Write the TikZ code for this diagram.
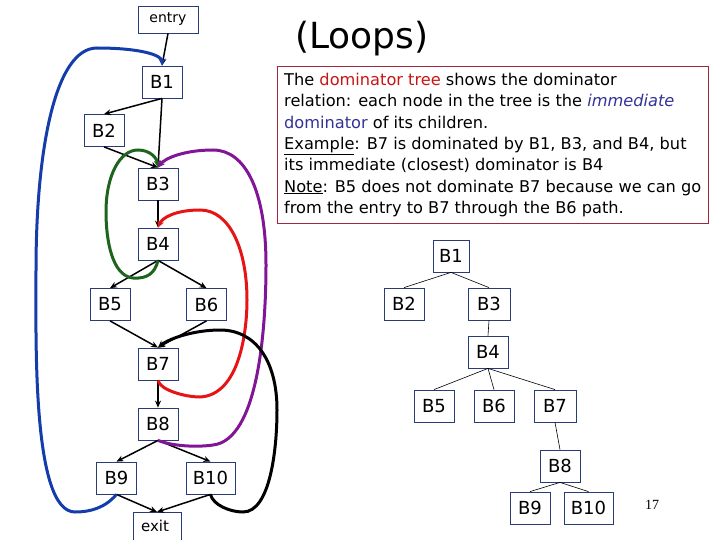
\documentclass[tikz,border=0pt]{standalone}
\usepackage{fontspec}
\setmainfont{DejaVu Sans}
\newfontfamily\pgfont{Liberation Serif}
\usetikzlibrary{arrows.meta}
\definecolor{boxblue}{RGB}{40,60,120}
\definecolor{frame}{RGB}{160,40,60}
\definecolor{bbl}{RGB}{20,60,170}
\definecolor{bgr}{RGB}{30,100,30}
\definecolor{bpu}{RGB}{130,20,150}
\definecolor{bre}{RGB}{230,20,20}
\definecolor{tred}{RGB}{200,20,20}
\definecolor{tblue}{RGB}{50,50,150}
\tikzset{
  blk/.style={draw=boxblue,line width=0.8pt,minimum width=40pt,minimum height=32pt,inner sep=0pt,font=\fontsize{18}{18}\selectfont},
  tblk/.style={draw=boxblue,line width=0.8pt,minimum width=40pt,minimum height=32pt,inner sep=0pt,font=\fontsize{18}{18}\selectfont},
  flow/.style={line width=1.5pt,-{Stealth[length=7pt,width=6pt]}},
  back/.style={line width=3pt,-{Stealth[length=7pt,width=7pt]}},
  tedge/.style={line width=0.6pt}
}
\begin{document}
\begin{tikzpicture}[x=1pt,y=-1pt]
\useasboundingbox (0,0) rectangle (720,540);
% left flow graph
\node[blk,minimum width=60pt,minimum height=27pt,font=\fontsize{14}{14}\selectfont] (entry) at (168,19.5) {entry};
\node[blk] (b1) at (162,82) {B1};
\node[blk] (b2) at (104,130.5) {B2};
\node[blk] (b3) at (158,184) {B3};
\node[blk] (b4) at (158,244) {B4};
\node[blk] (b5) at (110,304.5) {B5};
\node[blk] (b6) at (206.5,304.5) {B6};
\node[blk] (b7) at (158,364) {B7};
\node[blk] (b8) at (158,424) {B8};
\node[blk] (b9) at (116.5,478) {B9};
\node[blk,minimum width=49pt] (b10) at (210.5,478) {B10};
\node[blk,minimum width=48pt,minimum height=32pt,anchor=north] (exit) at (157,512) {};
\node[font=\fontsize{15}{15}\selectfont] (exitl) at (155,526) {exit};
\draw[flow] (entry.south) -- (b1.north);
\draw[flow] (b1.south) -- (b2.north);
\draw[flow] (b1.south) -- (b3.north);
\draw[flow] (b2.south) -- (b3.north);
\draw[flow] (b3.south) -- (b4.north);
\draw[flow] (b4.south) -- (b5.north);
\draw[flow] (b4.south) -- (b6.north);
\draw[flow] (b5.south) -- (b7.north);
\draw[flow] (b6.south) -- (b7.north);
\draw[flow] (b7.south) -- (b8.north);
\draw[flow] (b8.south) -- (b9.north);
\draw[flow] (b8.south) -- (b10.north);
\draw[flow] (b9.south) -- (exit.north);
\draw[flow] (b10.south) -- (exit.north);
% back edges
\draw[back,bbl] (b9.south) .. controls (105,508) and (90,512) .. (75,512)
  .. controls (32,512) and (36,340) .. (36,270)
  .. controls (36,150) and (55,48) .. (97,48)
  .. controls (140,48) and (162,55) .. (b1.north);
\draw[back,bgr] (b4.south) .. controls (155,274) and (146,279) .. (133,278)
  .. controls (112,276) and (106,240) .. (106,212)
  .. controls (106,175) and (120,150) .. (138,150)
  .. controls (150,150) and (157,158) .. (b3.north);
\draw[back,bpu] (b8.south) .. controls (175,447) and (200,447) .. (213,445)
  .. controls (258,440) and (266,330) .. (266,265)
  .. controls (266,190) and (245,150) .. (213,150)
  .. controls (185,150) and (165,158) .. (b3.north);
\draw[back,bre] (b7.south) .. controls (160,390) and (185,397) .. (200,397)
  .. controls (240,395) and (247,330) .. (247,300)
  .. controls (247,250) and (230,210) .. (200,210)
  .. controls (175,210) and (162,218) .. (b4.north);
\draw[back,black] (b10.south) .. controls (213,505) and (230,512) .. (243,512)
  .. controls (270,512) and (277,450) .. (277,410)
  .. controls (277,360) and (255,330) .. (220,330)
  .. controls (195,330) and (170,338) .. (b7.north);
% title
\node[font=\fontsize{36}{36}\selectfont] (title) at (362,39) {(Loops)};
% text box
\draw[frame,line width=1pt] (277,67) rectangle (708,224);
\node[anchor=north west,align=left,inner sep=0pt,font=\fontsize{16.2}{21.3}\selectfont] (txt) at (284,73) {%
The {\color{tred}dominator tree} shows the dominator\\
relation: each node in the tree is the {\color{tblue}\itshape immediate}\\
{\color{tblue}dominator} of its children.\\
\underline{Example}: B7 is dominated by B1, B3, and B4, but\\
its immediate (closest) dominator is B4\\
\underline{Note}: B5 does not dominate B7 because we can go\\
from the entry to B7 through the B6 path.};
% dominator tree
\node[tblk,minimum width=36pt] (t1) at (451,256) {B1};
\node[tblk] (t2) at (404,304) {B2};
\node[tblk,minimum width=42pt] (t3) at (489,304) {B3};
\node[tblk] (t4) at (488,352) {B4};
\node[tblk] (t5) at (434,406) {B5};
\node[tblk] (t6) at (494,406) {B6};
\node[tblk,minimum width=42pt] (t7) at (555,406) {B7};
\node[tblk] (t8) at (560,466) {B8};
\node[tblk] (t9) at (530,508) {B9};
\node[tblk,minimum width=49pt] (t10) at (588.5,508) {B10};
\draw[tedge] (t1.south) -- (t2.north);
\draw[tedge] (t1.south) -- (t3.north);
\draw[tedge] (t3.south) -- (t4.north);
\draw[tedge] (t4.south) -- (t5.north);
\draw[tedge] (t4.south) -- (t6.north);
\draw[tedge] (t4.south) -- (t7.north);
\draw[tedge] (t7.south) -- (t8.north);
\draw[tedge] (t8.south) -- (t9.north);
\draw[tedge] (t8.south) -- (t10.north);
\node[font=\pgfont\fontsize{14}{14}\selectfont] (pg) at (652,505) {17};
\end{tikzpicture}
\end{document}
